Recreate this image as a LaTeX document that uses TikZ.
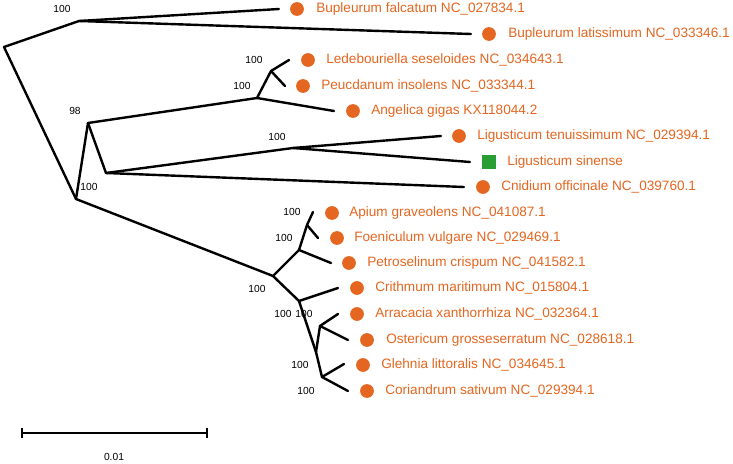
\documentclass[tikz,border=0pt]{standalone}
\usepackage{fontspec}
\setmainfont{Liberation Sans}
\definecolor{leaforange}{RGB}{228,102,32}
\definecolor{leafgreen}{RGB}{40,158,52}
\begin{document}
\begin{tikzpicture}[x=0.75pt,y=-0.75pt,
  branch/.style={line width=1.8pt,black,line cap=round,line join=round},
  dot/.style={circle,fill=leaforange,inner sep=0pt,minimum size=10.3pt},
  sq/.style={rectangle,fill=leafgreen,inner sep=0pt,minimum size=9.8pt},
  taxon/.style={anchor=west,inner sep=0pt,text=leaforange,font=\fontsize{10.2pt}{12pt}\selectfont},
  boot/.style={inner sep=0pt,font=\fontsize{7.7pt}{9pt}\selectfont}]
\useasboundingbox (0,0) rectangle (733,464);
\fill[white] (0,0) rectangle (733,464);
% internal nodes
\coordinate (nA) at (4,47);
\coordinate (nBup) at (79,21);
\coordinate (nB) at (76,199);
\coordinate (nC) at (88,123);
\coordinate (nD) at (257,98);
\coordinate (nE) at (271,71);
\coordinate (nF) at (106,173);
\coordinate (nG) at (293,148);
\coordinate (nH) at (273,276);
\coordinate (nI) at (299,250);
\coordinate (nJ) at (307,225);
\coordinate (nK) at (299,301);
\coordinate (nL) at (316,352);
\coordinate (nN) at (320,326);
\coordinate (nM) at (322,377);
% tips
\coordinate (t1) at (279,9);
\coordinate (t2) at (471,34);
\coordinate (t3) at (289,60);
\coordinate (t4) at (285,86);
\coordinate (t5) at (334,111);
\coordinate (t6) at (441,136);
\coordinate (t7) at (470,162);
\coordinate (t8) at (464,187);
\coordinate (t9) at (313,212);
\coordinate (t10) at (318,238);
\coordinate (t11) at (331,263);
\coordinate (t12) at (338,288);
\coordinate (t13) at (338,314);
\coordinate (t14) at (348,340);
\coordinate (t15) at (344,364);
\coordinate (t16) at (348,391);
% branches
\draw[branch] (nA) -- (nBup);
\draw[branch] (nBup) -- (t1);
\draw[branch] (nBup) -- (t2);
\draw[branch] (nA) -- (nB);
\draw[branch] (nB) -- (nC);
\draw[branch] (nC) -- (nD);
\draw[branch] (nD) -- (nE);
\draw[branch] (nE) -- (t3);
\draw[branch] (nE) -- (t4);
\draw[branch] (nD) -- (t5);
\draw[branch] (nC) -- (nF);
\draw[branch] (nF) -- (nG);
\draw[branch] (nG) -- (t6);
\draw[branch] (nG) -- (t7);
\draw[branch] (nF) -- (t8);
\draw[branch] (nB) -- (nH);
\draw[branch] (nH) -- (nI);
\draw[branch] (nI) -- (nJ);
\draw[branch] (nJ) -- (t9);
\draw[branch] (nJ) -- (t10);
\draw[branch] (nI) -- (t11);
\draw[branch] (nH) -- (nK);
\draw[branch] (nK) -- (t12);
\draw[branch] (nK) -- (nL);
\draw[branch] (nL) -- (nN);
\draw[branch] (nN) -- (t13);
\draw[branch] (nN) -- (t14);
\draw[branch] (nL) -- (nM);
\draw[branch] (nM) -- (t15);
\draw[branch] (nM) -- (t16);
% markers
\node[dot] (m1) at (297,9) {};
\node[dot] (m2) at (489,34) {};
\node[dot] (m3) at (308,60) {};
\node[dot] (m4) at (303,86) {};
\node[dot] (m5) at (353,111) {};
\node[dot] (m6) at (459,136) {};
\node[sq]  (m7) at (489,162) {};
\node[dot] (m8) at (483,187) {};
\node[dot] (m9) at (332,213) {};
\node[dot] (m10) at (337,238) {};
\node[dot] (m11) at (349,263) {};
\node[dot] (m12) at (357,288) {};
\node[dot] (m13) at (357,314) {};
\node[dot] (m14) at (367,340) {};
\node[dot] (m15) at (363,365) {};
\node[dot] (m16) at (367,391) {};
% taxon labels
\node[taxon] (l1) at (316,9) {Bupleurum falcatum NC\_027834.1};
\node[taxon] (l2) at (508,34) {Bupleurum latissimum NC\_033346.1};
\node[taxon] (l3) at (326,60) {Ledebouriella seseloides NC\_034643.1};
\node[taxon] (l4) at (321,86) {Peucdanum insolens NC\_033344.1};
\node[taxon] (l5) at (371,111) {Angelica gigas KX118044.2};
\node[taxon] (l6) at (477,136) {Ligusticum tenuissimum NC\_029394.1};
\node[taxon] (l7) at (507,162) {Ligusticum sinense};
\node[taxon] (l8) at (501,187) {Cnidium officinale NC\_039760.1};
\node[taxon] (l9) at (349,213) {Apium graveolens NC\_041087.1};
\node[taxon] (l10) at (354,238) {Foeniculum vulgare NC\_029469.1};
\node[taxon] (l11) at (367,263) {Petroselinum crispum NC\_041582.1};
\node[taxon] (l12) at (375,288) {Crithmum maritimum NC\_015804.1};
\node[taxon] (l13) at (375,314) {Arracacia xanthorrhiza NC\_032364.1};
\node[taxon] (l14) at (386,340) {Ostericum grosseserratum NC\_028618.1};
\node[taxon] (l15) at (381,365) {Glehnia littoralis NC\_034645.1};
\node[taxon] (l16) at (385,391) {Coriandrum sativum NC\_029394.1};
% bootstrap values
\node[boot] (b1) at (62,9) {100};
\node[boot] (b2) at (89,187) {100};
\node[boot] (b3) at (75,111) {98};
\node[boot] (b4) at (242,86) {100};
\node[boot] (b5) at (254,60) {100};
\node[boot] (b6) at (277,137) {100};
\node[boot] (b7) at (257,289) {100};
\node[boot] (b8) at (284,238) {100};
\node[boot] (b9) at (292,212) {100};
\node[boot] (b10) at (283,314) {100};
\node[boot] (b11) at (304,314) {100};
\node[boot] (b12) at (300,365) {100};
\node[boot] (b13) at (306,391) {100};
% scale bar
\coordinate (s1) at (22,433);
\coordinate (s2) at (207,433);
\draw[line width=1.3pt] (s1) -- (s2);
\draw[line width=1.3pt] ([yshift=-4]s1) -- ([yshift=4]s1);
\draw[line width=1.3pt] ([yshift=-4]s2) -- ([yshift=4]s2);
\node[boot] (sl) at (114,457) {0.01};
\end{tikzpicture}
\end{document}
